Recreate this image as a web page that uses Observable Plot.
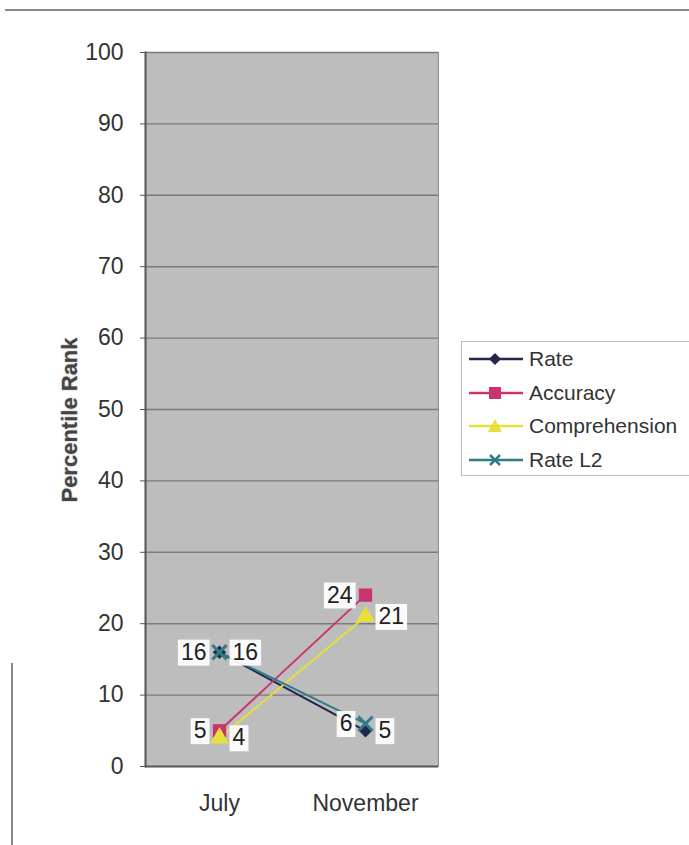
<!DOCTYPE html>
<html>
<head>
<meta charset="utf-8">
<script src="https://cdn.jsdelivr.net/npm/d3@7"></script>
<script src="https://cdn.jsdelivr.net/npm/@observablehq/plot@0.6"></script>
<style>
  html, body { margin: 0; padding: 0; background: #fff; }
  #wrap { position: relative; width: 689px; height: 845px; overflow: hidden; font-family: "Liberation Sans", Arial, sans-serif; color: #333; }
  #chart { position: absolute; left: 0; top: 0; }
  #topline { position: absolute; left: 5px; top: 9px; width: 684px; height: 0; border-top: 2px solid #8a8a8a; }
  #leftline { position: absolute; left: 11px; top: 663px; width: 0; height: 182px; border-left: 2px solid #8a8a8a; }
  #ytitle { position: absolute; left: 70px; top: 420px; transform: translate(-50%, -50%) rotate(-90deg); font-weight: bold; font-size: 22px; color: #444; white-space: nowrap; text-shadow: 0 0 2px #aaa; }
  #legend { position: absolute; left: 461px; top: 341px; width: 240px; height: 133px; border: 1px solid #bbb; background: #fff; }
  .li { position: absolute; left: 5px; height: 30px; display: flex; align-items: center; font-size: 21px; color: #333; }
  .li svg { margin-right: 4px; }
</style>
</head>
<body>
<div id="wrap">
  <div id="topline"></div>
  <div id="leftline"></div>
  <div id="chart"></div>
  <div id="ytitle">Percentile Rank</div>
  <div id="legend"></div>
</div>
<script>
// ---- data ----
const months = ["July", "November"];
const seriesNames = ["Rate", "Accuracy", "Comprehension", "Rate L2"];
const rate = [16, 5];
const accuracy = [5, 24];
const comprehension = [4, 21];
const rateL2 = [16, 6];
const yTicks = [0, 10, 20, 30, 40, 50, 60, 70, 80, 90, 100];

// ---- styles per series ----
const colors = { "Rate": "#23254f", "Accuracy": "#c8346f", "Comprehension": "#e6df3c", "Rate L2": "#2f7d86" };
const labelSide = { "Rate": 1, "Accuracy": -1, "Comprehension": 1, "Rate L2": -1 };

const valuesBySeries = { "Rate": rate, "Accuracy": accuracy, "Comprehension": comprehension, "Rate L2": rateL2 };
const data = [];
for (const s of seriesNames) {
  months.forEach((m, i) => data.push({ series: s, month: m, value: valuesBySeries[s][i] }));
}
const of = s => data.filter(d => d.series === s);

const chart = Plot.plot({
  width: 689,
  height: 845,
  marginLeft: 145,
  marginRight: 251,
  marginTop: 52,
  marginBottom: 79,
  style: { fontFamily: "Liberation Sans, Arial, sans-serif", color: "#333", background: "transparent" },
  x: { type: "point", domain: months, padding: 0.5 },
  y: { domain: [0, 100] },
  marks: [
    Plot.frame({ fill: "#bdbdbd", stroke: "#8c8c8c" }),
    Plot.ruleY(yTicks.filter(t => t > 0), { stroke: "#7a7a7a", strokeWidth: 1.4 }),
    Plot.axisY({ ticks: yTicks, tickSize: 5, tickPadding: 17, fontSize: 23, label: null, stroke: "#555" }),
    Plot.axisX({ tickSize: 0, tickPadding: 28, fontSize: 23, label: null }),
    Plot.frame({ anchor: "left", stroke: "#555", strokeWidth: 2 }),
    Plot.ruleY([0], { stroke: "#555", strokeWidth: 2 }),
    Plot.line(data, { x: "month", y: "value", z: "series", stroke: d => colors[d.series], strokeWidth: 2 }),
    Plot.dot(of("Accuracy"), { x: "month", y: "value", symbol: "square", fill: colors["Accuracy"], r: 7.5 }),
    Plot.dot(of("Comprehension"), { x: "month", y: "value", symbol: "triangle", fill: colors["Comprehension"], r: 7 }),
    Plot.dot(of("Rate"), { x: "month", y: "value", symbol: "diamond2", fill: colors["Rate"], r: 6 }),
    Plot.dot(of("Rate L2"), { x: "month", y: "value", symbol: "times", stroke: colors["Rate L2"], strokeWidth: 3, r: 6.5 }),
    Plot.text(data.filter(d => labelSide[d.series] > 0), { x: "month", y: "value", text: d => String(d.value), textAnchor: "start", dx: 13, fontSize: 23, fill: "#222", className: "lbl" }),
    Plot.text(data.filter(d => labelSide[d.series] < 0), { x: "month", y: "value", text: d => String(d.value), textAnchor: "end", dx: -13, fontSize: 23, fill: "#222", className: "lbl" })
  ]
});
document.getElementById("chart").appendChild(chart);

// white boxes behind data labels
chart.querySelectorAll("g.lbl text").forEach(t => {
  const b = t.getBBox();
  const r = document.createElementNS("http://www.w3.org/2000/svg", "rect");
  r.setAttribute("x", b.x - 3);
  r.setAttribute("y", b.y + 1);
  r.setAttribute("width", b.width + 6);
  r.setAttribute("height", b.height);
  r.setAttribute("fill", "white");
  r.setAttribute("fill-opacity", "0.92");
  const tr = t.getAttribute("transform");
  if (tr) r.setAttribute("transform", tr);
  t.parentNode.insertBefore(r, t);
});

// ---- legend ----
const legend = document.getElementById("legend");
const legendSym = {
  "Rate": `<path d="M28 10 L34 16 L28 22 L22 16 Z" fill="${colors["Rate"]}"/>`,
  "Accuracy": `<rect x="22" y="10" width="12" height="12" fill="${colors["Accuracy"]}"/>`,
  "Comprehension": `<path d="M28 9 L35 22 L21 22 Z" fill="${colors["Comprehension"]}"/>`,
  "Rate L2": `<path d="M23 11 L33 21 M33 11 L23 21" stroke="${colors["Rate L2"]}" stroke-width="2.5"/>`
};
seriesNames.forEach((s, i) => {
  const div = document.createElement("div");
  div.className = "li";
  div.style.top = (2 + i * 33.5) + "px";
  div.innerHTML = `<svg width="58" height="32"><line x1="2" y1="16" x2="56" y2="16" stroke="${colors[s]}" stroke-width="2.5"/>${legendSym[s]}</svg><span>${s}</span>`;
  legend.appendChild(div);
});
</script>
</body>
</html>
